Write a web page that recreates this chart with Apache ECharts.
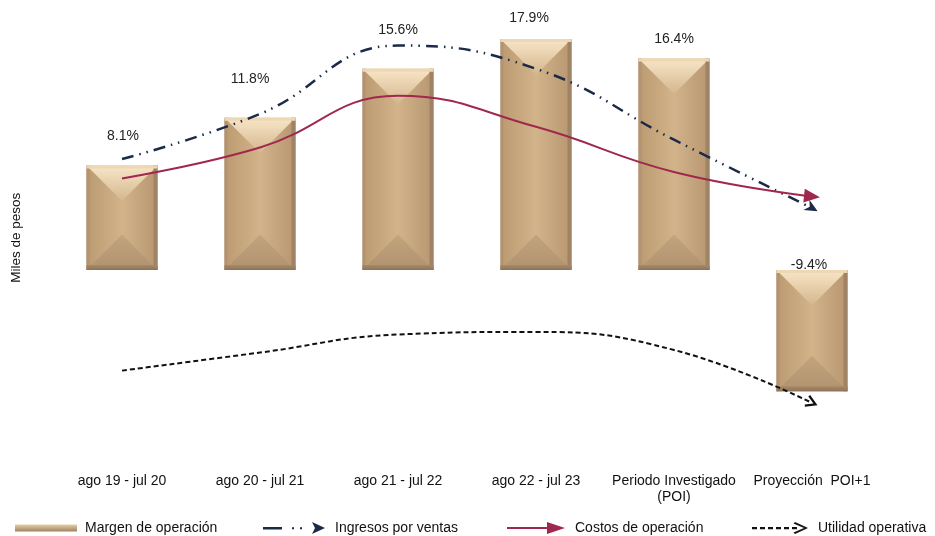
<!DOCTYPE html>
<html>
<head>
<meta charset="utf-8">
<script src="https://cdn.jsdelivr.net/npm/echarts@6/dist/echarts.min.js"></script>
<style>
  html, body { margin: 0; padding: 0; background: #fff; }
  #chart { width: 935px; height: 536px; }
</style>
</head>
<body>
<div id="chart"></div>
<script>
// periodos
const categories = ['ago 19 - jul 20', 'ago 20 - jul 21', 'ago 21 - jul 22', 'ago 22 - jul 23', 'Periodo Investigado\n(POI)', 'Proyección  POI+1'];
// margen de operacion (%)
const margen = [8.1, 11.8, 15.6, 17.9, 16.4, -9.4];
// curvas ilustrativas (misma escala)
const ingresos = [8.6, 12.1, 17.4, 15.6, 10.1, 4.8];
const costos = [7.1, 9.5, 13.5, 11.1, 7.6, 5.7];
const utilidad = [-7.8, -6.4, -5.0, -4.8, -6.2, -10.3];

const chart = echarts.init(document.getElementById('chart'));
const FONT = 'Liberation Sans, Arial, sans-serif';

// desplazamiento de las etiquetas sobre cada barra
const labelShift = [[1, -29], [-10, -39], [0, -39], [-7, -21], [0, -19], [-3, -5]];

function renderBar(params, api) {
  const idx = api.value(0);
  const val = api.value(1);
  const base = api.coord([idx, 0]);
  const end = api.coord([idx, val]);
  const w = api.size([1, 0])[0] * 0.515;
  const cx = base[0];
  const x0 = cx - w / 2, x1 = cx + w / 2;
  const top = Math.min(base[1], end[1]);
  const bot = Math.max(base[1], end[1]);
  const h = bot - top;
  const d = Math.min(w / 2, h / 2);
  const sh = labelShift[params.dataIndex];
  return {
    type: 'group',
    children: [
      { type: 'rect', shape: { x: x0, y: top, width: w, height: h },
        style: { fill: new echarts.graphic.LinearGradient(0, 0, 1, 0, [
          { offset: 0, color: '#bb9a70' }, { offset: 0.5, color: '#d2b38a' }, { offset: 1, color: '#b79670' }]) } },
      { type: 'polygon', shape: { points: [[x0, top], [x1, top], [cx, top + d]] },
        style: { fill: new echarts.graphic.LinearGradient(0, 0, 0, 1, [
          { offset: 0, color: '#f8e6c8' }, { offset: 1, color: '#d4b68d' }]) } },
      { type: 'polygon', shape: { points: [[x0, bot], [x1, bot], [cx, bot - d]] },
        style: { fill: new echarts.graphic.LinearGradient(0, 1, 0, 0, [
          { offset: 0, color: '#b09270' }, { offset: 1, color: '#c3a47d' }]) } },
      { type: 'rect', shape: { x: x0, y: top, width: 3, height: h }, style: { fill: '#b39372' } },
      { type: 'rect', shape: { x: x1 - 4, y: top, width: 4, height: h }, style: { fill: '#a08364' } },
      { type: 'rect', shape: { x: x0, y: top, width: w, height: 3 }, style: { fill: '#eed8b4' } },
      { type: 'rect', shape: { x: x0, y: bot - 5, width: w, height: 5 },
        style: { fill: new echarts.graphic.LinearGradient(0, 0, 0, 1, [
          { offset: 0, color: '#a78a69' }, { offset: 1, color: '#8c7458' }]) } },
      { type: 'text', x: cx + sh[0], y: top + sh[1],
        style: { text: val.toFixed(1) + '%', fill: '#222', font: '14px ' + FONT, align: 'center', verticalAlign: 'middle' } }
    ]
  };
}

function arrowEnd(arr, symbol, size, rotate) {
  return arr.map((v, i) => i === arr.length - 1
    ? { value: v, symbol: symbol, symbolSize: size, symbolRotate: rotate }
    : { value: v, symbol: 'none' });
}

const legendText = { color: '#111', fontSize: 14, fontFamily: FONT };

const option = {
  animation: false,
  backgroundColor: '#fff',
  textStyle: { fontFamily: FONT },
  grid: { left: 53, right: 54, top: 12, height: 451.5 },
  xAxis: {
    type: 'category',
    data: categories,
    axisLine: { show: false },
    axisTick: { show: false },
    axisLabel: { color: '#111', fontSize: 14, margin: 10, lineHeight: 16, interval: 0 }
  },
  yAxis: {
    type: 'value',
    min: -15,
    max: 20,
    axisLine: { show: false },
    axisTick: { show: false },
    axisLabel: { show: false },
    splitLine: { show: false },
    name: 'Miles de pesos',
    nameLocation: 'middle',
    nameGap: 30,
    nameTextStyle: { color: '#111', fontSize: 13.5 }
  },
  legend: [
    { left: 15, top: 521, itemWidth: 62, itemHeight: 7, itemGap: 0, padding: 0,
      textStyle: Object.assign({ padding: [0, 0, 0, 3] }, legendText),
      data: [{ name: 'Margen de operación', icon: 'rect',
        itemStyle: { color: new echarts.graphic.LinearGradient(0, 0, 0, 1, [
          { offset: 0, color: '#e6cfa9' }, { offset: 1, color: '#9e8262' }]) } }] },
    { left: 263, top: 521, itemWidth: 62, itemHeight: 12, itemGap: 0, padding: 0,
      textStyle: Object.assign({ padding: [0, 0, 0, 5] }, legendText),
      data: [{ name: 'Ingresos por ventas',
        icon: 'path://M0,5 L19,5 L19,7.5 L0,7.5 Z M29,5.3 L31,5.3 L31,7.3 L29,7.3 Z M37,5.3 L39,5.3 L39,7.3 L37,7.3 Z M49,0 L62,6 L49,12 L52,6 Z',
        itemStyle: { color: '#1b2a48', borderWidth: 0 } }] },
    { left: 507, top: 521, itemWidth: 58, itemHeight: 12, itemGap: 0, padding: 0,
      textStyle: Object.assign({ padding: [0, 0, 0, 5] }, legendText),
      data: [{ name: 'Costos de operación',
        icon: 'path://M0,5 L42,5 L42,7 L0,7 Z M40,0 L58,6 L40,12 Z',
        itemStyle: { color: '#a0284f', borderWidth: 0 } }] },
    { left: 752, top: 521, itemWidth: 56, itemHeight: 12, itemGap: 0, padding: 0,
      textStyle: Object.assign({ padding: [0, 0, 0, 5] }, legendText),
      data: [{ name: 'Utilidad operativa',
        icon: 'path://M0,5 L5,5 L5,7.2 L0,7.2 Z M8,5 L13,5 L13,7.2 L8,7.2 Z M16,5 L21,5 L21,7.2 L16,7.2 Z M24,5 L29,5 L29,7.2 L24,7.2 Z M32,5 L37,5 L37,7.2 L32,7.2 Z M40,5 L45,5 L45,7.2 L40,7.2 Z M43,0 L56,6 L43,12 L41.5,10.5 L52,6 L41.5,1.5 Z',
        itemStyle: { color: '#111', borderWidth: 0 } }] }
  ],
  series: [
    {
      name: 'Margen de operación',
      type: 'custom',
      renderItem: renderBar,
      encode: { x: 0, y: 1 },
      data: margen.map((v, i) => [i, v]),
      itemStyle: { color: '#c4a47c' },
      z: 1
    },
    {
      name: 'Ingresos por ventas',
      type: 'line',
      smooth: 0.45,
      data: arrowEnd(ingresos, 'path://M5,0 L10,10 L5,7 L0,10 Z', [12, 13], -120),
      lineStyle: { color: '#1b2a48', width: 2.5, type: [12, 6, 1.5, 6, 1.5, 6] },
      itemStyle: { color: '#1b2a48' },
      z: 3
    },
    {
      name: 'Costos de operación',
      type: 'line',
      smooth: 0.45,
      data: arrowEnd(costos, 'triangle', [14, 16], -96),
      lineStyle: { color: '#a0284f', width: 2 },
      itemStyle: { color: '#a0284f' },
      z: 4
    },
    {
      name: 'Utilidad operativa',
      type: 'line',
      smooth: 0.45,
      data: arrowEnd(utilidad, 'path://M0,10 L6,0 L12,10 L10,11 L6,4 L2,11 Z', [13, 12], -114),
      lineStyle: { color: '#111', width: 2, type: [5, 3] },
      itemStyle: { color: '#111' },
      z: 3
    }
  ]
};

chart.setOption(option);
</script>
</body>
</html>
